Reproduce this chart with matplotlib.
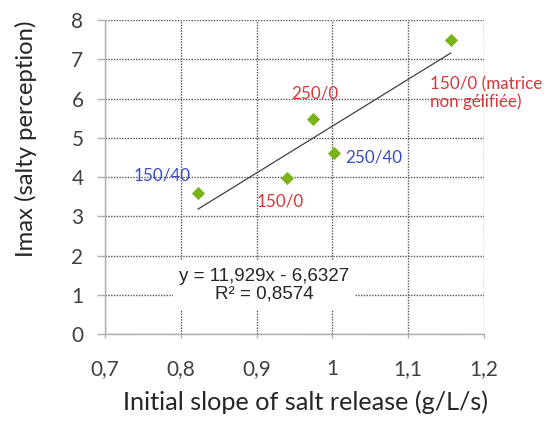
import numpy as np
import matplotlib
matplotlib.use("Agg")
import matplotlib.pyplot as plt
from matplotlib.patches import Rectangle

# data
slope = [0.823, 0.940, 0.975, 1.002, 1.156]
imax = [3.60, 3.98, 5.49, 4.60, 7.49]
labels = ["150/40", "150/0", "250/0", "250/40", "150/0 (matrice\nnon gélifiée)"]
label_colors = ["#3a4fbf", "#d9363a", "#d9363a", "#3a4fbf", "#d9363a"]
label_pos = [(0.775, 4.03), (0.931, 3.37), (0.977, 6.13), (1.054, 4.50), (1.129, 6.14)]
label_ha = ["center", "center", "center", "center", "left"]

fit_slope = 11.929
fit_icpt = -6.6327
r2 = 0.8574

x_ticks = [0.7, 0.8, 0.9, 1.0, 1.1, 1.2]
x_ticklabels = ["0,7", "0,8", "0,9", "1", "1,1", "1,2"]
y_ticks = list(range(0, 9))

plt.rcParams["font.family"] = ["Lato", "DejaVu Sans"]

fig = plt.figure(figsize=(5.46, 4.23), dpi=100)
ax = fig.add_axes([0.1923, 0.2104, 0.6941, 0.7423])
renderer = fig.canvas.get_renderer()


def fit_width(txt, target_px, horizontal=True):
    """Scale a text's font size so its rendered extent matches target_px."""
    bb = txt.get_window_extent(renderer)
    cur = bb.width if horizontal else bb.height
    txt.set_fontsize(txt.get_fontsize() * target_px / cur)


ax.set_xlim(0.7, 1.2)
ax.set_ylim(0, 8)
ax.set_xticks(x_ticks)
ax.set_xticklabels(x_ticklabels)
ax.set_yticks(y_ticks)

ax.grid(True, color="#555555", linestyle=(0, (1, 1)), linewidth=1.0, zorder=0)
ax.set_axisbelow(True)
for s in ["top", "right"]:
    ax.spines[s].set_visible(False)
for s in ["left", "bottom"]:
    ax.spines[s].set_color("#b0b0b0")
    ax.spines[s].set_linewidth(1.0)
ax.tick_params(axis="both", colors="#b0b0b0", labelcolor="#404040",
               length=5.5, width=1.0, labelsize=14)
ax.tick_params(axis="y", pad=10)
ax.tick_params(axis="x", length=3, pad=15)

# trendline
xs = np.array([min(slope), max(slope)])
ax.plot(xs, fit_slope * xs + fit_icpt, color="#404040", linewidth=0.9, zorder=2)

ax.scatter(slope, imax, marker="D", s=45, color="#7ab317", zorder=3, linewidths=0)

data_texts = []
for lab, col, (lx, ly), ha in zip(labels, label_colors, label_pos, label_ha):
    t = ax.text(lx, ly, lab, color=col, fontsize=12, ha=ha, va="center",
                linespacing=1.05, clip_on=False, zorder=4)
    data_texts.append(t)

# white box behind the equation
ax.add_patch(Rectangle((0.179, 0.076), 0.481, 0.16, transform=ax.transAxes,
                       facecolor="white", edgecolor="none", zorder=1.5))
eq = ax.text(0.91, 1.25, "y = {:,}x - {:,}".format(fit_slope, -fit_icpt).replace(".", ",")
             + "\nR² = " + str(r2).replace(".", ","),
             family=["Liberation Sans", "DejaVu Sans"], fontsize=11.5, color="#262626",
             ha="center", va="center", linespacing=1.05, zorder=4)

xl = ax.set_xlabel("Initial slope of salt release (g/L/s)", fontsize=16, color="#262626",
                   va="center")
yl = ax.set_ylabel("Imax (salty perception)", fontsize=16, color="#262626",
                   va="center", ha="center")
ax.xaxis.set_label_coords(0.528, -0.217)
ax.yaxis.set_label_coords(-0.208, 0.621)

# match text sizes measured on the reference
fit_width(xl, 366)
fit_width(yl, 238, horizontal=False)
fit_width(data_texts[0], 57)
for t in data_texts[1:]:
    t.set_fontsize(data_texts[0].get_fontsize())
first_line = ax.text(0, 0, "y = 11,929x - 6,6327", fontsize=eq.get_fontsize(),
                     family=["Liberation Sans", "DejaVu Sans"])
sc = 170 / first_line.get_window_extent(renderer).width
first_line.remove()
eq.set_fontsize(eq.get_fontsize() * sc)
tl = ax.get_xticklabels()[1]
sc = 29 / tl.get_window_extent(renderer).width
ax.tick_params(axis="both", labelsize=14 * sc)

fig.savefig("out.png", dpi=100)
